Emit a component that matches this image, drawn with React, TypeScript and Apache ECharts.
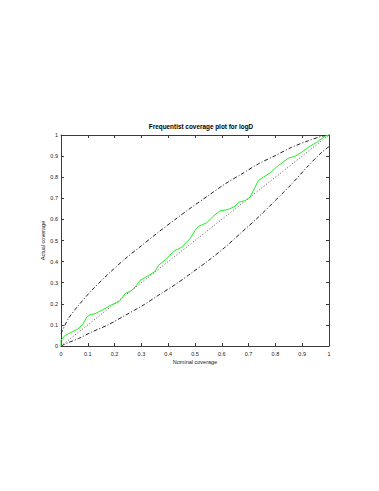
import React, { useEffect, useRef } from "react";
import * as echarts from "echarts";

const titleText = "Frequentist coverage plot for logD";
const xName = "Nominal coverage";
const yName = "Actual coverage";

const greenX = [0, 0, 0.015, 0.04, 0.065, 0.083, 0.096, 0.108, 0.127, 0.152, 0.189, 0.214, 0.226, 0.239, 0.264, 0.282, 0.295, 0.326, 0.351, 0.363, 0.394, 0.419, 0.45, 0.481, 0.5, 0.512, 0.544, 0.568, 0.593, 0.624, 0.649, 0.662, 0.687, 0.705, 0.724, 0.736, 0.755, 0.78, 0.811, 0.848, 0.873, 0.898, 0.923, 0.954, 0.985, 1];
const greenY = [0, 0.027, 0.05, 0.066, 0.082, 0.106, 0.137, 0.148, 0.153, 0.169, 0.196, 0.208, 0.224, 0.248, 0.263, 0.287, 0.311, 0.334, 0.353, 0.382, 0.413, 0.448, 0.468, 0.508, 0.547, 0.566, 0.584, 0.615, 0.64, 0.647, 0.662, 0.681, 0.689, 0.705, 0.752, 0.784, 0.8, 0.82, 0.855, 0.89, 0.899, 0.918, 0.942, 0.965, 0.994, 1];

const upperX = [0, 0.027, 0.065, 0.114, 0.177, 0.239, 0.301, 0.363, 0.425, 0.488, 0.55, 0.612, 0.674, 0.736, 0.799, 0.861, 0.923, 0.973, 1];
const upperY = [0.058, 0.129, 0.192, 0.263, 0.342, 0.413, 0.476, 0.539, 0.599, 0.658, 0.713, 0.768, 0.815, 0.863, 0.902, 0.942, 0.973, 0.994, 1];

const lowerX = [0, 0.027, 0.065, 0.114, 0.177, 0.239, 0.301, 0.363, 0.425, 0.488, 0.55, 0.612, 0.674, 0.736, 0.799, 0.861, 0.923, 0.973, 1];
const lowerY = [0, 0.016, 0.035, 0.066, 0.101, 0.145, 0.189, 0.24, 0.29, 0.347, 0.405, 0.468, 0.539, 0.61, 0.689, 0.768, 0.855, 0.918, 0.945];

const diagX = [0, 1];
const diagY = [0, 1];

const zip = (xs: number[], ys: number[]) => xs.map((x, i) => [x, ys[i]]);

const FONT = "Liberation Sans, Arial, Helvetica, sans-serif";

export default function App() {
  const ref = useRef<HTMLDivElement>(null);
  useEffect(() => {
    if (!ref.current) return;
    const chart = echarts.init(ref.current, undefined, { renderer: "svg" });
    const axisCommon = {
      type: "value" as const,
      min: 0,
      max: 1,
      interval: 0.1,
      splitLine: { show: false },
      axisLine: { show: true, onZero: false, lineStyle: { color: "#3a3a3a", width: 1 } },
      axisTick: { show: true, inside: true, length: 3, lineStyle: { color: "#3a3a3a" } },
    };
    chart.setOption({
      animation: false,
      backgroundColor: "#ffffff",
      title: {
        text: titleText,
        left: 196,
        textAlign: "center",
        top: 118,
        textStyle: { fontFamily: FONT, fontSize: 6.4, fontWeight: "bold", color: "#000" },
      },
      grid: { left: 61, top: 135, width: 268, height: 211, containLabel: false },
      xAxis: [
        {
          ...axisCommon,
          position: "bottom",
          name: xName,
          nameLocation: "middle",
          nameGap: 13,
          nameMoveOverlap: false,
          nameTextStyle: { fontFamily: FONT, fontSize: 5.5, color: "#222" },
          axisLabel: { fontFamily: FONT, fontSize: 5.5, color: "#222", margin: 5 },
        },
        {
          ...axisCommon,
          position: "top",
          axisLabel: { show: false },
        },
      ],
      yAxis: [
        {
          ...axisCommon,
          position: "left",
          name: yName,
          nameLocation: "middle",
          nameRotate: 90,
          nameGap: 15,
          nameMoveOverlap: false,
          nameTextStyle: { fontFamily: FONT, fontSize: 5.5, color: "#222" },
          axisLabel: { fontFamily: FONT, fontSize: 5.5, color: "#222", margin: 3 },
        },
        {
          ...axisCommon,
          position: "right",
          axisLabel: { show: false },
        },
      ],
      series: [
        {
          type: "line",
          data: zip(diagX, diagY),
          showSymbol: false,
          symbol: "none",
          lineStyle: { color: "#555", width: 1, type: [1, 2] },
          z: 2,
        },
        {
          type: "line",
          data: zip(upperX, upperY),
          showSymbol: false,
          symbol: "none",
          smooth: 0.3,
          lineStyle: { color: "#222", width: 1, type: [4, 2, 1, 2] },
          z: 2,
        },
        {
          type: "line",
          data: zip(lowerX, lowerY),
          showSymbol: false,
          symbol: "none",
          smooth: 0.3,
          lineStyle: { color: "#222", width: 1, type: [4, 2, 1, 2] },
          z: 2,
        },
        {
          type: "line",
          data: zip(greenX, greenY),
          showSymbol: false,
          symbol: "none",
          lineStyle: { color: "#22ee22", width: 1 },
          z: 3,
        },
      ],
    });
    return () => chart.dispose();
  }, []);
  return (
    <div
      ref={ref}
      style={{ position: "fixed", left: 0, top: 0, width: 379, height: 491, background: "#fff" }}
    />
  );
}
